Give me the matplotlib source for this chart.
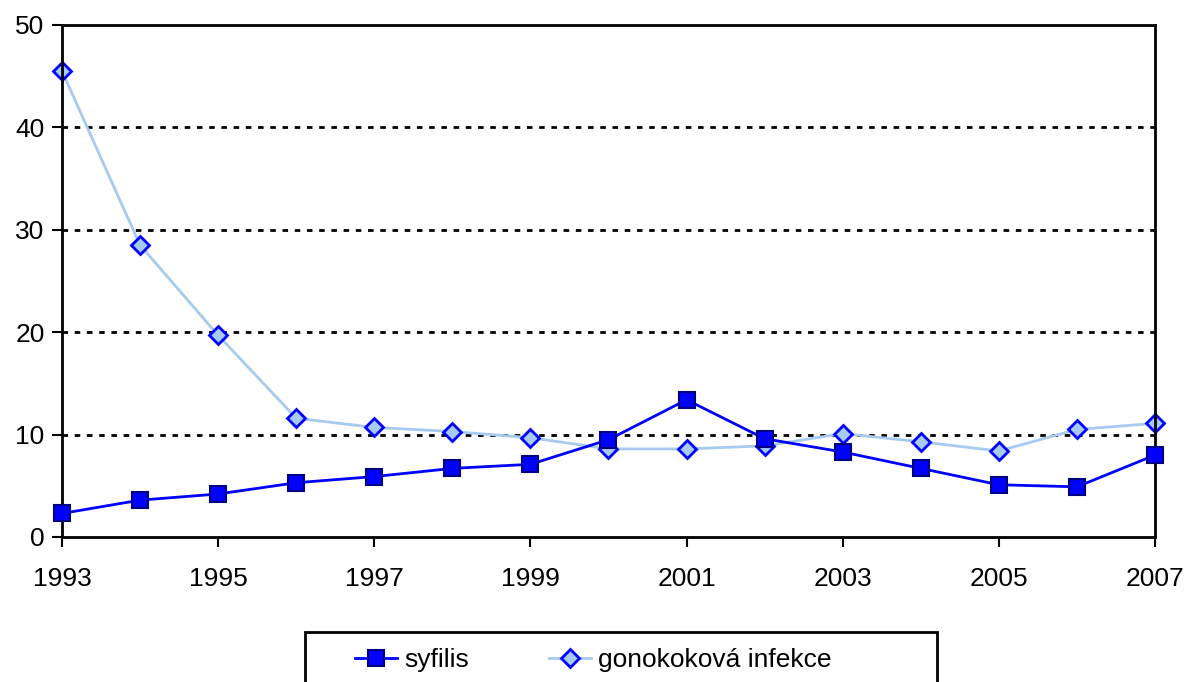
import matplotlib
matplotlib.use("Agg")
import matplotlib.pyplot as plt
from matplotlib.patches import Rectangle

plt.rcParams['font.family'] = ['Liberation Sans Narrow', 'Liberation Sans', 'DejaVu Sans']

years = list(range(1993, 2008))
syfilis = [2.3, 3.6, 4.2, 5.3, 5.9, 6.7, 7.1, 9.5, 13.4, 9.6, 8.3, 6.7, 5.1, 4.9, 8.0]
gonokokova = [45.5, 28.5, 19.7, 11.6, 10.7, 10.3, 9.7, 8.6, 8.6, 8.9, 10.1, 9.3, 8.4, 10.5, 11.1]
xticks = list(range(1993, 2008, 2))
yticks = [0, 10, 20, 30, 40, 50]

fig = plt.figure(figsize=(11.84, 6.82), dpi=100)
ax = fig.add_axes([62 / 1184, 1 - 537 / 682, (1155 - 62) / 1184, (537 - 25) / 682])

for y in yticks[1:-1]:
    ax.axhline(y, color='black', lw=2, linestyle=(0, (2.0, 2.4)), zorder=1)

l1, = ax.plot(years, syfilis, color='#0000FF', lw=2, marker='s', markersize=12,
              markerfacecolor='#0000FF', markeredgecolor='#000080', markeredgewidth=1.5,
              zorder=3, clip_on=False)
l2, = ax.plot(years, gonokokova, color='#A6CAF0', lw=2, marker='D', markersize=9,
              markerfacecolor='#A6CAF0', markeredgecolor='#0000FF', markeredgewidth=2,
              zorder=2, clip_on=False)

ax.set_xlim(1993, 2007)
ax.set_ylim(0, 50)
ax.set_xticks(xticks)
ax.set_yticks(yticks)
ax.tick_params(axis='both', direction='out', length=7.5, width=1.5, labelsize=19, colors='black')
ax.tick_params(axis='x', pad=14)
ax.tick_params(axis='y', pad=5)
for s in ax.spines.values():
    s.set_linewidth(2)
    s.set_color('black')

fig.patches.append(Rectangle((305 / 1184, -0.05), (937 - 305) / 1184, 0.05 + (682 - 632) / 682,
                             transform=fig.transFigure, fill=False, edgecolor='black', lw=2))
for handle, text, x0 in [(l1, 'syfilis', 355), (l2, 'gonokoková infekce', 549)]:
    fig.legend([handle], [text], loc='center left', bbox_to_anchor=(x0 / 1184, 1 - 660 / 682),
               frameon=False, fontsize=19, handlelength=1.6, handletextpad=0.25,
               borderaxespad=0, borderpad=0)

fig.savefig('out.png', dpi=100)
